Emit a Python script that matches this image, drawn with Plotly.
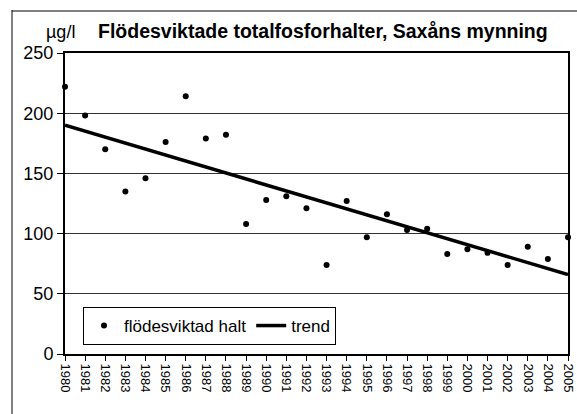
import plotly.graph_objects as go

years = list(range(1980, 2006))
tick_labels = [str(y) for y in years]
halt = [222, 198, 170, 135, 146, 176, 214, 179, 182, 108, 128, 131, 121,
        74, 127, 97, 116, 103, 104, 83, 87, 84, 74, 89, 79, 97]
trend_years = [1980, 2005]
trend_values = [190, 66]

W, H = 577, 414
ml, mr, mt, mb = 65, 9, 53, 60
pw = W - ml - mr
ph = H - mt - mb

def px(x):
    return (x - ml) / pw

def py(y):
    return (H - mb - y) / ph

FONT = "Liberation Sans, Arial, sans-serif"

fig = go.Figure()
fig.add_trace(go.Scatter(
    x=years, y=halt, mode="markers", name="flödesviktad halt",
    marker=dict(color="black", size=6), cliponaxis=False))
fig.add_trace(go.Scatter(
    x=trend_years, y=trend_values, mode="lines", name="trend",
    line=dict(color="black", width=3.5)))

fig.update_layout(
    width=W, height=H,
    margin=dict(l=ml, r=mr, t=mt, b=mb, autoexpand=False),
    paper_bgcolor="white", plot_bgcolor="white",
    font=dict(family=FONT, color="black"),
    showlegend=True,
    legend=dict(orientation="h", x=px(83), y=py(307), xanchor="left", yanchor="top",
                bordercolor="black", borderwidth=1, bgcolor="white",
                font=dict(size=17, family=FONT), itemwidth=30,
                tracegroupgap=0),
    xaxis=dict(range=[1980, 2005], tickmode="array", tickvals=years, ticktext=tick_labels,
               tickangle=90, tickfont=dict(size=13, family=FONT), automargin=False,
               ticklabeloverflow="allow",
               showline=True, linecolor="black", linewidth=2, mirror=True,
               ticks="outside", ticklen=5, tickcolor="black", showgrid=False,
               zeroline=False),
    yaxis=dict(range=[0, 250], tickvals=[0, 50, 100, 150, 200, 250],
               tickfont=dict(size=18, family=FONT), automargin=False,
               showline=True, linecolor="black", linewidth=2, mirror=True,
               ticks="outside", ticklen=6, tickcolor="black",
               showgrid=True, gridcolor="#333333", gridwidth=1, zeroline=False),
    annotations=[
        dict(text="<b>Flödesviktade totalfosforhalter, Saxåns mynning</b>",
             x=px(323), y=py(31), xref="paper", yref="paper",
             xanchor="center", yanchor="middle", showarrow=False,
             font=dict(size=19.5, family=FONT, color="black")),
        dict(text="µg/l", x=px(44), y=py(32), xref="paper", yref="paper",
             xanchor="left", yanchor="middle", showarrow=False,
             font=dict(size=18, family=FONT, color="black")),
    ],
    shapes=[
        dict(type="line", xref="paper", yref="paper", x0=px(12), x1=px(12), y0=py(10), y1=py(414),
             line=dict(color="black", width=1)),
        dict(type="line", xref="paper", yref="paper", x0=px(12), x1=px(577), y0=py(11), y1=py(11),
             line=dict(color="black", width=1)),
    ],
)

fig.write_html("out.html", config={"displayModeBar": False},
               post_script="document.body.style.margin='0';document.body.style.overflow='hidden';")
